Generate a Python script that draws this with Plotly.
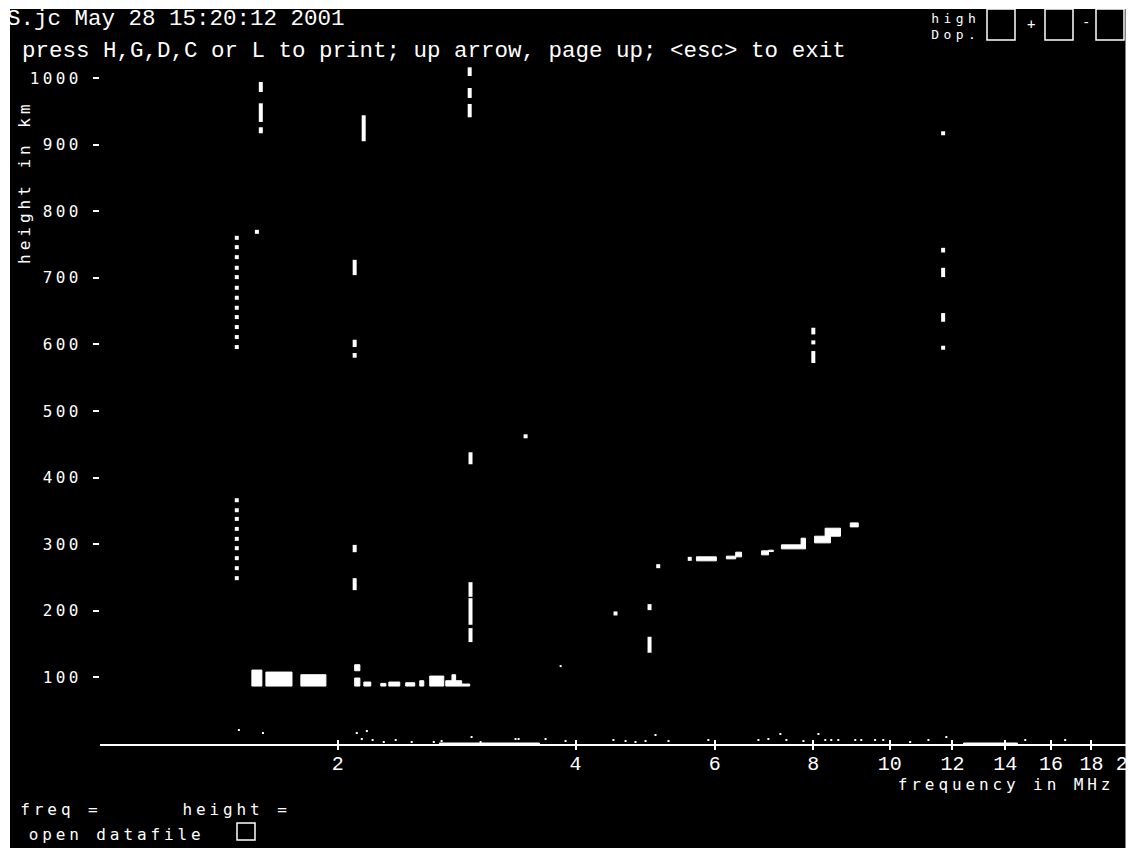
import json
import math
import plotly.graph_objects as go

# ---------------- data (frequency in MHz, virtual height in km) ----------------
# isolated echo dots
dot_freq = [1.49, 1.49, 1.49, 1.49, 1.49, 1.49, 1.49, 1.49, 1.49, 1.49, 1.49, 1.49,
            1.49, 1.49, 1.49, 1.49, 1.49, 1.49, 1.49, 1.49, 1.49,
            1.580, 3.458, 4.494, 5.09, 5.58]
dot_height = [760, 746, 731, 715, 701, 685, 670, 655, 641, 626, 611, 596,
              366, 351, 338, 323, 308, 294, 279, 264, 249,
              769, 462, 196, 267, 278]

# vertical echo streaks: frequency, lowest and highest height
seg_freq = [1.598, 1.598, 1.598, 2.157, 2.101, 2.101, 2.101, 2.101, 2.101,
            2.938, 2.938, 2.938, 2.945, 2.945, 2.945, 2.945, 4.963, 4.963,
            8.0, 8.0, 8.0, 11.68, 11.68, 11.68, 11.68, 11.68]
seg_h_lo = [979, 934, 917, 905, 704, 596, 580, 288, 231,
            1003, 970, 941, 420, 221, 179, 153, 201, 137,
            615, 600, 572, 914, 738, 701, 634, 592]
seg_h_hi = [994, 962, 926, 944, 727, 607, 587, 299, 249,
            1016, 985, 961, 438, 243, 219, 174, 210, 161,
            625, 606, 590, 920, 745, 715, 647, 598]

# echo patches (E layer, F trace, clutter on the base line)
blk_f_lo = [1.557, 1.622, 1.796, 2.101, 2.101, 2.158, 2.267, 2.321, 2.438, 2.540,
            2.615, 2.740, 2.790, 2.870,
            5.69, 6.21, 6.38, 6.88, 7.02, 7.29, 7.72, 8.03, 8.28, 8.91,
            2.69, 12.4]
blk_f_hi = [1.603, 1.750, 1.932, 2.133, 2.133, 2.202, 2.301, 2.396, 2.503, 2.570,
            2.724, 2.870, 2.820, 2.938,
            6.03, 6.38, 6.49, 7.02, 7.12, 7.82, 7.82, 8.41, 8.66, 9.12,
            3.60, 14.5]
blk_h_lo = [87, 87, 87, 87, 110, 87, 87, 87, 87, 87,
            87, 87, 95, 87,
            275, 278, 281, 284, 289, 293, 299, 302, 312, 326,
            0, 0]
blk_h_hi = [111, 108, 104, 99, 119, 93, 91, 93, 92, 95,
            102, 95, 104, 90,
            281, 282, 288, 290, 291, 299, 309, 312, 324, 332,
            1.5, 1.5]

# faint noise specks
noise_freq = [1.499, 1.608, 2.114, 2.177, 2.145, 2.214, 2.287, 2.368, 2.481, 2.646,
              2.707, 2.954, 3.033, 3.358, 3.388, 3.665, 3.885, 3.83, 4.467, 4.628,
              4.764, 4.905, 5.050, 5.245, 5.891, 6.817, 7.018, 7.267, 7.396, 7.773,
              8.12, 8.284, 8.43, 8.605, 9.04, 9.2, 9.58, 9.81, 10.61, 11.19,
              11.79, 14.84, 16.67]
noise_height = [21, 16.5, 16.5, 19.5, 7.5, 6, 3, 6, 3, 3,
                4.5, 10.5, 3, 7.5, 7.5, 7.5, 4.5, 117, 6, 4.5,
                3, 4.5, 13.5, 4.5, 6, 6, 7.5, 15, 6, 4.5,
                15, 6, 6, 6, 6, 6, 6, 6, 3, 6,
                10.5, 6, 6]

x_tick_vals = [2, 4, 6, 8, 10, 12, 14, 16, 18, 20]
x_tick_text = ["2", "4", "6", "8", "10", "12", "14", "16", "18", "20"]
y_tick_vals = [100, 200, 300, 400, 500, 600, 700, 800, 900, 1000]

header_line1 = "S.jc May 28 15:20:12 2001"
header_line2 = "press H,G,D,C or L to print; up arrow, page up; &lt;esc&gt; to exit"

# ---------------- geometry ----------------
W, H = 1128, 854
ML, MR, MT, MB = 100, 0, 58, 110
PW, PH = W - ML - MR, H - MT - MB
X_RANGE = [0, 1.3015]
Y_RANGE = [0, 1030]


def pxx(px):
    return (px - ML) / PW


def pxy(py):
    return (H - MB - py) / PH


# build traces
seg_x, seg_y = [], []
for f, lo, hi in zip(seg_freq, seg_h_lo, seg_h_hi):
    seg_x += [f, f, None]
    seg_y += [lo, hi, None]

blk_x, blk_y = [], []
for f0, f1, h0, h1 in zip(blk_f_lo, blk_f_hi, blk_h_lo, blk_h_hi):
    blk_x += [f0, f1, f1, f0, f0, None]
    blk_y += [h0, h0, h1, h1, h0, None]

fig = go.Figure()
fig.add_trace(go.Scatter(x=blk_x, y=blk_y, mode="lines", fill="toself",
                         fillcolor="white", line=dict(color="white", width=1)))
fig.add_trace(go.Scatter(x=seg_x, y=seg_y, mode="lines",
                         line=dict(color="white", width=4)))
fig.add_trace(go.Scatter(x=dot_freq, y=dot_height, mode="markers",
                         marker=dict(symbol="square", size=4, color="white",
                                     line=dict(width=0))))
fig.add_trace(go.Scatter(x=noise_freq, y=noise_height, mode="markers",
                         xaxis="x2",
                         marker=dict(symbol="square", size=2, color="white",
                                     line=dict(width=0))))

mono_serif = "Liberation Mono"
mono_sans = "DejaVu Sans Mono"

fig.update_layout(
    width=W, height=H,
    margin=dict(l=ML, r=MR, t=MT, b=MB, pad=0, autoexpand=False),
    paper_bgcolor="black", plot_bgcolor="black",
    showlegend=False, hovermode=False,
    xaxis=dict(type="log", range=X_RANGE, showgrid=False, zeroline=False,
               automargin=False,
               showline=True, linecolor="white", linewidth=2,
               ticks="outside", ticklen=4, tickwidth=2, tickcolor="white",
               tickvals=x_tick_vals, ticktext=x_tick_text,
               ticklabelstandoff=-4, ticklabeloverflow="allow",
               tickfont=dict(family=mono_serif, size=20, color="white")),
    xaxis2=dict(type="log", range=X_RANGE, overlaying="x", anchor="y",
                side="bottom", showgrid=False, zeroline=False, showline=False,
                automargin=False,
                ticks="inside", ticklen=4, tickwidth=2, tickcolor="white",
                tickvals=x_tick_vals, showticklabels=False),
    yaxis=dict(range=Y_RANGE, showgrid=False, zeroline=False, showline=False,
               automargin=False,
               ticks="outside", ticklen=6, tickwidth=1.5, tickcolor="white",
               tickvals=y_tick_vals, ticklabelstandoff=8,
               tickfont=dict(family=mono_sans, size=16, color="white")),
)

ann = []


def add_text(text, cx, cy, family, size, angle=0):
    ann.append(dict(text=text, x=pxx(cx), y=pxy(cy), xref="paper", yref="paper",
                    xanchor="center", yanchor="middle", showarrow=False,
                    textangle=angle,
                    font=dict(family=family, size=size, color="white")))


add_text(header_line1, 176, 19, mono_serif, 22.5)
add_text(header_line2, 434, 51, mono_serif, 22.5)
add_text("height in km", 24, 182, mono_sans, 16, angle=-90)
add_text("frequency in MHz", 1006, 784, mono_sans, 16)
add_text("freq =", 61, 810, mono_sans, 16)
add_text("height =", 236, 810, mono_sans, 16)
add_text("open datafile", 116, 834, mono_sans, 16)
add_text("high", 955, 18, mono_sans, 13)
add_text("Dop.", 955, 35, mono_sans, 13)
add_text("+", 1031, 24, mono_sans, 14)
add_text("-", 1086, 22, mono_sans, 14)
fig.update_layout(annotations=ann)

shapes = []


def rect_px(x0, y0, x1, y1, fill=None, line=None, width=1.5):
    shapes.append(dict(type="rect", xref="paper", yref="paper",
                       x0=pxx(x0), x1=pxx(x1), y0=pxy(y1), y1=pxy(y0),
                       fillcolor=fill if fill else "rgba(0,0,0,0)",
                       line=dict(color=line if line else "rgba(0,0,0,0)",
                                 width=width if line else 0),
                       layer="above"))


# white frame around the screen capture
rect_px(0, 0, W, 9, fill="white")
rect_px(0, 0, 10, H, fill="white")
rect_px(1125.5, 0, W, H, fill="white")
rect_px(0, 848, W, H, fill="white")
# check boxes
rect_px(987, 9, 1015, 40, line="white")
rect_px(1045, 9, 1073, 40, line="white")
rect_px(1096, 9, 1124, 40, line="white")
rect_px(237, 823, 255, 840, line="white")
fig.update_layout(shapes=shapes)

spacing = {"height in km": 4.0, "frequency in MHz": 3.9, "freq =": 3.9,
           "height =": 3.9, "open datafile": 3.9, "high": 4.4, "Dop.": 4.4}

post = """
document.body.style.margin='0';
document.body.style.overflow='hidden';
var gd=document.getElementById('{plot_id}');
var LS=%s;
function applyLS(){
  gd.querySelectorAll('text').forEach(function(t){
    var s=LS[t.textContent];
    if(s!==undefined){ t.style.letterSpacing=s+'px'; }
  });
  gd.querySelectorAll('.ytick text').forEach(function(t){ t.style.letterSpacing='3.4px'; });
}
applyLS();
if(gd.on){ gd.on('plotly_afterplot', applyLS); }
""" % json.dumps(spacing)

fig.write_html("out.html", post_script=post, config={"displayModeBar": False})
